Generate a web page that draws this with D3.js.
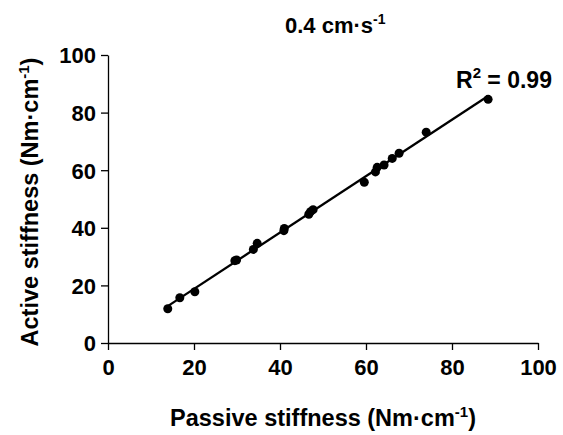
<!DOCTYPE html>
<html>
<head>
<meta charset="utf-8">
<script src="https://cdn.jsdelivr.net/npm/d3@7"></script>
<style>
  body { margin: 0; background: #fff; }
  text { font-family: "Liberation Sans", Arial, sans-serif; font-weight: bold; fill: #000; }
</style>
</head>
<body>
<div id="chart"></div>
<script>
// passive vs active stiffness
const passive = [13.9, 16.7, 20.2, 29.5, 29.9, 33.8, 34.7, 40.9, 41.0, 46.7, 47.1, 47.7,
                 59.6, 62.2, 62.6, 64.2, 66.1, 67.7, 74.0, 88.4];
const active  = [11.9, 15.7, 17.8, 28.6, 28.8, 32.5, 34.6, 39.0, 39.8, 44.7, 45.6, 46.3,
                 55.8, 59.4, 61.0, 61.8, 64.1, 65.9, 73.2, 84.6];
const xTicks = [0, 20, 40, 60, 80, 100];
const yTicks = [0, 20, 40, 60, 80, 100];

const width = 563, height = 435;
const margin = { left: 108, right: 25, top: 55, bottom: 92 };

const svg = d3.select("#chart")
    .append("svg")
    .attr("width", width)
    .attr("height", height);

const x = d3.scaleLinear().domain([0, 100]).range([margin.left, width - margin.right]);
const y = d3.scaleLinear().domain([0, 100]).range([height - margin.bottom, margin.top]);

// axes
const xAxis = svg.append("g")
    .attr("transform", `translate(0,${y(0)})`)
    .call(d3.axisBottom(x).tickValues(xTicks).tickSize(7).tickPadding(9).tickSizeOuter(0));
const yAxis = svg.append("g")
    .attr("transform", `translate(${x(0)},0)`)
    .call(d3.axisLeft(y).tickValues(yTicks).tickSize(7).tickPadding(5).tickSizeOuter(0));

[xAxis, yAxis].forEach(g => {
    g.select(".domain").attr("stroke", "#000").attr("stroke-width", 1.3);
    g.selectAll(".tick line").attr("stroke", "#000").attr("stroke-width", 1.3);
    g.selectAll(".tick text")
        .style("font-family", "'Liberation Sans', Arial, sans-serif")
        .style("font-weight", "bold")
        .style("font-size", "22px")
        .attr("fill", "#000");
});
yAxis.selectAll(".tick text").attr("dy", "0.36em");

// linear regression
const n = passive.length;
const mx = d3.mean(passive), my = d3.mean(active);
let sxy = 0, sxx = 0;
for (let i = 0; i < n; i++) {
    sxy += (passive[i] - mx) * (active[i] - my);
    sxx += (passive[i] - mx) ** 2;
}
const slope = sxy / sxx;
const intercept = my - slope * mx;
const x0 = d3.min(passive), x1 = d3.max(passive);

svg.append("line")
    .attr("x1", x(x0))
    .attr("y1", y(intercept + slope * x0))
    .attr("x2", x(x1))
    .attr("y2", y(intercept + slope * x1))
    .attr("stroke", "#000")
    .attr("stroke-width", 2.3);

svg.selectAll("circle")
    .data(passive)
    .enter()
    .append("circle")
    .attr("cx", d => x(d))
    .attr("cy", (d, i) => y(active[i]))
    .attr("r", 4.5)
    .attr("fill", "#000");

// title
const title = svg.append("text")
    .attr("x", 285)
    .attr("y", 33)
    .style("font-size", "22px");
title.append("tspan").text("0.4 cm\u00b7s");
title.append("tspan").attr("dy", -9).style("font-size", "14px").text("-1");

// R squared
const r2 = svg.append("text")
    .attr("x", 456)
    .attr("y", 88)
    .style("font-size", "23px");
r2.append("tspan").text("R");
r2.append("tspan").attr("dy", -10).style("font-size", "15px").text("2");
r2.append("tspan").attr("dy", 10).text(" = 0.99");

// x label
const xl = svg.append("text")
    .attr("x", x(50))
    .attr("y", 426)
    .attr("text-anchor", "middle")
    .style("font-size", "23.5px");
xl.append("tspan").text("Passive stiffness (Nm\u00b7cm");
xl.append("tspan").attr("dy", -9).style("font-size", "15px").text("-1");
xl.append("tspan").attr("dy", 9).text(")");

// y label
const yl = svg.append("text")
    .attr("transform", `translate(38,202) rotate(-90)`)
    .attr("text-anchor", "middle")
    .style("font-size", "23.5px");
yl.append("tspan").text("Active stiffness (Nm\u00b7cm");
yl.append("tspan").attr("dy", -9).style("font-size", "15px").text("-1");
yl.append("tspan").attr("dy", 9).text(")");
</script>
</body>
</html>
